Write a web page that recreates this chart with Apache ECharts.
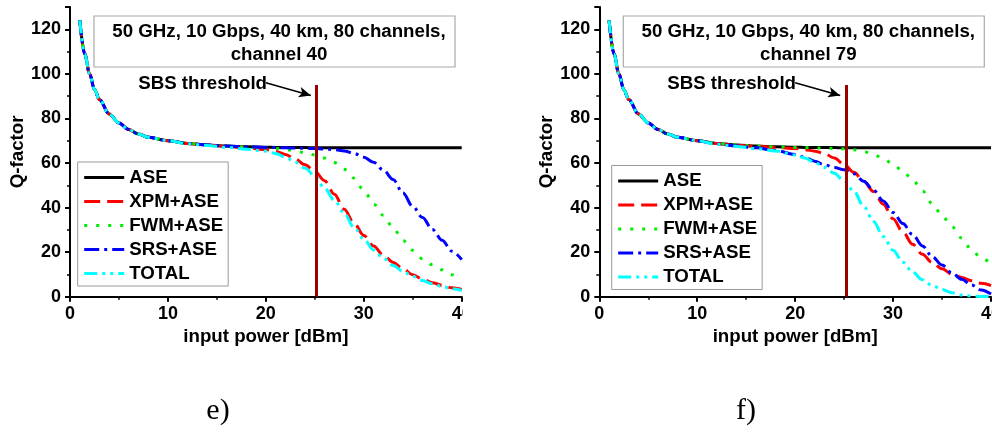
<!DOCTYPE html>
<html>
<head>
<meta charset="utf-8">
<script src="https://cdn.jsdelivr.net/npm/echarts@6/dist/echarts.min.js"></script>
<style>
  html, body { margin: 0; padding: 0; background: #fff; }
  #chart { width: 992px; height: 436px; }
</style>
</head>
<body>
<div id="chart"></div>
<script>
// Input power grid [dBm] shared by every curve
const inputPower = [1, 1.5, 2, 2.5, 3, 4, 5, 6, 7, 8, 10, 12, 14, 16, 18, 20, 21, 22, 23, 24, 25, 26, 27, 28, 29, 30, 31, 32, 33, 34, 35, 36, 37, 38, 39, 40];

// Common low-power part of every Q-factor curve (x = 1 ... 12)
const qLowPower = [124, 109, 100, 93, 88.5, 82, 78, 75, 73, 71.5, 70, 68.8];

// Panel e) - channel 40
const aseE   = qLowPower.concat([68.1, 67.6, 67.3, 67.1, 67.0, 67.0, 66.9, 66.9, 66.8, 66.8, 66.8, 66.8, 66.8, 66.8, 66.8, 66.8, 66.8, 66.8, 66.8, 66.8, 66.8, 66.8, 66.8, 66.8]);
const xpmE   = qLowPower.concat([68.0, 67.4, 66.8, 66.0, 65.2, 63.8, 61.8, 59.2, 56.3, 52.0, 46.0, 39.2, 33.0, 27.5, 22.7, 18.6, 15.4, 12.5, 9.9, 7.9, 6.3, 5.1, 4.0, 3.2]);
const fwmE   = qLowPower.concat([68.1, 67.6, 67.2, 66.8, 66.5, 66.1, 65.4, 64.6, 63.6, 62.2, 60.2, 57.2, 53.2, 47.8, 41.6, 36.5, 30.8, 25.3, 20.8, 17.0, 14.3, 12.1, 9.8, 7.6]);
const srsE   = qLowPower.concat([68.1, 67.6, 67.3, 67.0, 66.9, 66.8, 66.7, 66.6, 66.5, 66.3, 66.0, 65.4, 64.3, 62.6, 60.3, 56.8, 52.6, 46.5, 40.5, 35.5, 30.2, 25.3, 20.4, 16.6]);
const totalE = qLowPower.slice(0, 11).concat([68.6, 67.8, 67.0, 66.2, 65.3, 64.3, 62.6, 60.3, 57.6, 54.2, 48.6, 43.3, 37.4, 31.2, 25.8, 21.0, 17.2, 14.0, 11.3, 9.2, 7.3, 5.8, 4.6, 3.6, 2.8]);

// Panel f) - channel 79
const aseF   = aseE.slice();
const xpmF   = qLowPower.concat([68.0, 67.5, 67.0, 66.5, 66.0, 65.3, 64.2, 62.2, 59.3, 55.8, 51.8, 47.2, 41.5, 35.0, 29.0, 23.5, 19.0, 15.3, 12.5, 10.2, 8.6, 7.2, 6.0, 5.0]);
const fwmF   = qLowPower.concat([68.1, 67.6, 67.3, 67.0, 66.9, 66.8, 66.7, 66.5, 66.3, 65.9, 65.1, 63.8, 62.0, 59.5, 56.3, 52.4, 47.5, 41.8, 36.3, 31.5, 26.3, 21.2, 17.3, 14.8]);
const srsF   = qLowPower.slice(0, 11).concat([68.5, 67.6, 66.8, 65.6, 63.8, 62.5, 60.8, 59.2, 58.0, 57.0, 55.2, 51.8, 47.8, 43.0, 37.8, 32.8, 27.8, 22.8, 18.0, 14.2, 10.7, 7.8, 5.3, 3.0, 1.2]);
const totalF = qLowPower.slice(0, 11).concat([68.4, 67.4, 66.5, 65.4, 63.6, 62.2, 60.2, 58.0, 55.4, 51.8, 47.3, 40.5, 33.8, 27.0, 20.8, 15.5, 11.0, 7.6, 5.0, 3.2, 1.8, 0.8, 0.3, 0.1, 0.0]);

// SBS threshold position [dBm] and height of its marker
const sbsThresholdE = 25.1;
const sbsThresholdF = 25.2;
const sbsMarkerTop = 95;

// Axis tick labels
const xTickLabels = [0, 10, 20, 30, 40];
const yTickLabels = [0, 20, 40, 60, 80, 100, 120];

const seriesNames = ['ASE', 'XPM+ASE', 'FWM+ASE', 'SRS+ASE', 'TOTAL'];
const panelTitles = ['50 GHz, 10 Gbps, 40 km, 80 channels,', 'channel 40', 'channel 79'];

const FONT = '"Liberation Sans", Arial, sans-serif';
const TEXT_SIZE = 18.7;
const styles = {
  'ASE':     { color: '#000000', type: 'solid' },
  'XPM+ASE': { color: '#ff0000', type: [16, 7] },
  'FWM+ASE': { color: '#00ee00', type: [3, 9] },
  'SRS+ASE': { color: '#0000ff', type: [15, 5, 3, 5] },
  'TOTAL':   { color: '#00ffff', type: [13, 5, 3, 5, 3, 5] }
};

function pairs(ys) { return ys.map((y, i) => [inputPower[i], y]); }

function curve(name, ys, idx, extra) {
  const s = styles[name];
  return Object.assign({
    name: name,
    type: 'line',
    xAxisIndex: idx,
    yAxisIndex: idx,
    data: pairs(ys),
    symbol: 'none',
    smooth: 0.35,
    smoothMonotone: 'x',
    lineStyle: { color: s.color, width: 3, type: s.type },
    itemStyle: { color: s.color },
    animation: false
  }, extra || {});
}

function sbsMarks(xs) {
  return {
    silent: true,
    animation: false,
    label: { show: false },
    data: [
      [
        { coord: [xs, 0], symbol: 'none', lineStyle: { color: '#990000', width: 3, type: 'solid' } },
        { coord: [xs, sbsMarkerTop], symbol: 'none' }
      ],
      [
        { coord: [20.0, 96.0], symbol: 'none', lineStyle: { color: '#000', width: 1.5, type: 'solid' } },
        { coord: [24.6, 90.3], symbol: 'arrow', symbolSize: [8, 12] }
      ]
    ]
  };
}

function xAxis(gridIndex) {
  return {
    type: 'value', gridIndex: gridIndex, min: 0, max: 40, interval: 10,
    name: 'input power [dBm]', nameLocation: 'middle', nameGap: 31,
    nameTextStyle: { color: '#000', fontSize: TEXT_SIZE, fontWeight: 'bold', fontFamily: FONT },
    axisLine: { show: true, lineStyle: { color: '#000', width: 2 } },
    axisTick: { show: true, length: 5, lineStyle: { color: '#000', width: 2 } },
    minorTick: { show: true, splitNumber: 2, length: 3, lineStyle: { color: '#000', width: 1.5 } },
    axisLabel: { color: '#000', fontSize: 18, fontWeight: 'bold', fontFamily: FONT, margin: 8, customValues: xTickLabels },
    splitLine: { show: false }
  };
}

function yAxis(gridIndex) {
  return {
    type: 'value', gridIndex: gridIndex, min: 0, max: 130, interval: 20,
    name: 'Q-factor', nameLocation: 'middle', nameGap: 43, nameRotate: 90,
    nameTextStyle: { color: '#000', fontSize: TEXT_SIZE, fontWeight: 'bold', fontFamily: FONT },
    axisLine: { show: true, lineStyle: { color: '#000', width: 2 } },
    axisTick: { show: true, length: 5, lineStyle: { color: '#000', width: 2 } },
    minorTick: { show: true, splitNumber: 2, length: 3, lineStyle: { color: '#000', width: 1.5 } },
    axisLabel: { color: '#000', fontSize: 18, fontWeight: 'bold', fontFamily: FONT, margin: 9, customValues: yTickLabels },
    splitLine: { show: false }
  };
}

function legend(left, top) {
  return {
    orient: 'vertical', left: left, top: top,
    data: seriesNames,
    itemWidth: 40, itemHeight: 18, itemGap: 5,
    padding: [6, 5, 3, 5],
    borderColor: '#999', borderWidth: 1,
    backgroundColor: '#fff',
    selectedMode: false,
    itemStyle: { opacity: 0, borderWidth: 0 },
    lineStyle: { width: 3 },
    textStyle: { color: '#000', fontSize: TEXT_SIZE, fontWeight: 'bold', fontFamily: FONT }
  };
}

function titleBox(x, textX, secondLine) {
  return {
    type: 'group', z: 50,
    children: [
      { type: 'rect', shape: { x: x, y: 16, width: 361, height: 51 },
        style: { fill: '#fff', stroke: '#aaa', lineWidth: 1.2 } },
      { type: 'text', x: textX, y: 32,
        style: { text: panelTitles[0], fill: '#000', font: 'bold ' + TEXT_SIZE + 'px ' + FONT, align: 'center', verticalAlign: 'middle' } },
      { type: 'text', x: textX, y: 55,
        style: { text: secondLine, fill: '#000', font: 'bold ' + TEXT_SIZE + 'px ' + FONT, align: 'center', verticalAlign: 'middle' } }
    ]
  };
}

const option = {
  backgroundColor: '#fff',
  animation: false,
  grid: [
    { left: 70, top: 7, width: 391.7, height: 289.7, outerBoundsMode: 'none', containLabel: false },
    { left: 599.3, top: 7, width: 391.7, height: 289.7, outerBoundsMode: 'none', containLabel: false }
  ],
  xAxis: [xAxis(0), xAxis(1)],
  yAxis: [yAxis(0), yAxis(1)],
  legend: [legend(77.7, 162), legend(611.7, 165.5)],
  series: [
    curve('ASE', aseE, 0, { markLine: sbsMarks(sbsThresholdE) }),
    curve('XPM+ASE', xpmE, 0),
    curve('FWM+ASE', fwmE, 0),
    curve('SRS+ASE', srsE, 0),
    curve('TOTAL', totalE, 0),
    curve('ASE', aseF, 1, { markLine: sbsMarks(sbsThresholdF) }),
    curve('XPM+ASE', xpmF, 1),
    curve('FWM+ASE', fwmF, 1),
    curve('SRS+ASE', srsF, 1),
    curve('TOTAL', totalF, 1)
  ],
  graphic: [
    // panel edge: the left panel ends right after its last tick
    { type: 'rect', z: 100, shape: { x: 463, y: 0, width: 33, height: 330 }, style: { fill: '#fff' } },
    titleBox(94, 279, panelTitles[1]),
    titleBox(623.3, 808.3, panelTitles[2]),
    { type: 'text', z: 60, x: 267, y: 84,
      style: { text: 'SBS threshold', fill: '#000', font: 'bold ' + TEXT_SIZE + 'px ' + FONT, align: 'right', verticalAlign: 'middle' } },
    { type: 'text', z: 60, x: 796, y: 84,
      style: { text: 'SBS threshold', fill: '#000', font: 'bold ' + TEXT_SIZE + 'px ' + FONT, align: 'right', verticalAlign: 'middle' } },
    { type: 'text', z: 60, x: 218, y: 426,
      style: { text: 'e)', fill: '#000', font: '30px "Liberation Serif", "Times New Roman", serif', align: 'center', verticalAlign: 'bottom' } },
    { type: 'text', z: 60, x: 746, y: 426,
      style: { text: 'f)', fill: '#000', font: '30px "Liberation Serif", "Times New Roman", serif', align: 'center', verticalAlign: 'bottom' } }
  ]
};

const chart = echarts.init(document.getElementById('chart'), null, { renderer: 'canvas' });
chart.setOption(option);
</script>
</body>
</html>
